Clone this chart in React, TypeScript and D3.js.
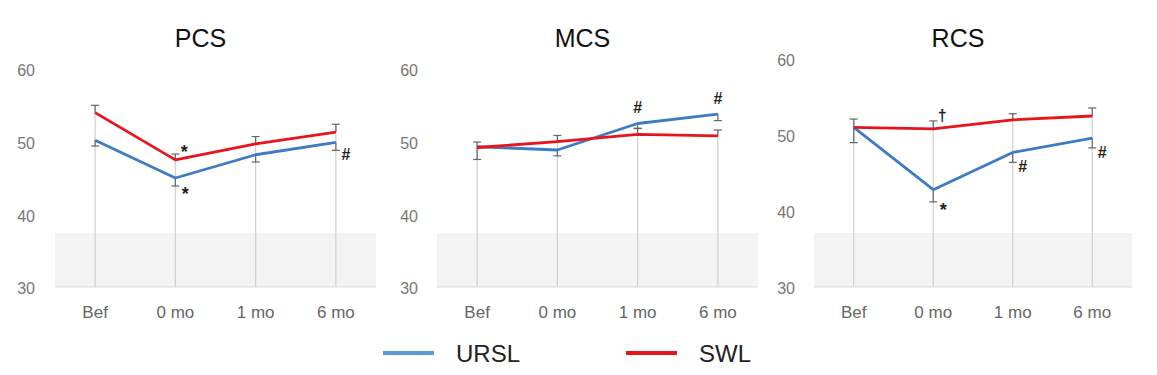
import React from "react";
import * as d3 from "d3";

const categories = ["Bef", "0 mo", "1 mo", "6 mo"];
const panelTitles = ["PCS", "MCS", "RCS"];
const yTicks = [30, 40, 50, 60];
const bandTop = [37.4, 37.4, 37.1];

const urslValues = [
  [50.2, 45.0, 48.2, 49.9],
  [49.3, 48.85, 52.5, 53.8],
  [51.0, 42.8, 47.7, 49.6],
];
const urslErr = [
  [0.8, 1.1, 1.0, 1.1],
  [1.75, 0.8, 0.7, 0.9],
  [2.0, 1.6, 1.3, 1.3],
];
const swlValues = [
  [54.0, 47.5, 49.7, 51.3],
  [49.2, 50.0, 51.0, 50.8],
  [51.0, 50.8, 52.0, 52.5],
];
const swlErr = [
  [1.0, 0.8, 1.0, 1.1],
  [0.75, 0.85, 0.85, 0.8],
  [1.1, 1.05, 0.8, 1.05],
];

// annotations: panel index, category index, symbol, anchor
const annotations = [
  { p: 0, c: 1, s: "*", a: "swlTop" },
  { p: 0, c: 1, s: "*", a: "urslBottom" },
  { p: 0, c: 3, s: "#", a: "urslBottom" },
  { p: 1, c: 2, s: "#", a: "urslAbove" },
  { p: 1, c: 3, s: "#", a: "urslAbove" },
  { p: 2, c: 1, s: "†", a: "swlTop" },
  { p: 2, c: 1, s: "*", a: "urslBottom" },
  { p: 2, c: 2, s: "#", a: "urslBottom" },
  { p: 2, c: 3, s: "#", a: "urslBottom" },
];

const legendItems = ["URSL", "SWL"];

const W = 1157;
const H = 375;
const FONT = "'Liberation Sans', Arial, sans-serif";
const RED = "#e8141c";
const BLUE = "#3d7bc2";
const LEGEND_BLUE = "#5b9bd5";

const panelLayout = [
  { x0: 55, x1: 376, yTop: 69, labelX: 35 },
  { x0: 437, x1: 758, yTop: 69, labelX: 418 },
  { x0: 814, x1: 1132, yTop: 59, labelX: 795 },
];
const BASE_Y = 287;

function Panel({ idx }: { idx: number }) {
  const L = panelLayout[idx];
  const x = d3.scalePoint<string>().domain(categories).range([L.x0, L.x1]).padding(0.5);
  const y = d3.scaleLinear().domain([30, 60]).range([BASE_Y, L.yTop]);
  const line = d3
    .line<number>()
    .x((_, i) => x(categories[i]) as number)
    .y((d) => y(d));
  const blue = urslValues[idx];
  const red = swlValues[idx];
  const be = urslErr[idx];
  const re = swlErr[idx];
  const cx = (i: number) => x(categories[i]) as number;
  const cap = 4;

  const anns = annotations.filter((a) => a.p === idx);
  const shift: Record<string, number> = { "*": 0.55, "#": 0.36, "†": 0.36 };
  const fs: Record<string, number> = { "*": 18, "#": 16, "†": 16 };

  return (
    <g>
      <text
        x={(L.x0 + L.x1) / 2 - 15}
        y={47}
        textAnchor="middle"
        fontFamily={FONT}
        fontSize={25}
        fill="#111"
      >
        {panelTitles[idx]}
      </text>
      <rect
        x={L.x0}
        y={y(bandTop[idx])}
        width={L.x1 - L.x0}
        height={BASE_Y - y(bandTop[idx])}
        fill="#f3f3f3"
      />
      <line x1={L.x0} x2={L.x1} y1={BASE_Y} y2={BASE_Y} stroke="#dcdcdc" strokeWidth={1.2} />
      {yTicks.map((t) => (
        <text
          key={t}
          x={L.labelX}
          y={y(t) + 3}
          textAnchor="end"
          dominantBaseline="middle"
          fontFamily={FONT}
          fontSize={16}
          fill="#777"
        >
          {t}
        </text>
      ))}
      {categories.map((c, i) => (
        <g key={c}>
          <line
            x1={cx(i)}
            x2={cx(i)}
            y1={BASE_Y}
            y2={y(red[i] + re[i])}
            stroke="#d0d0d0"
            strokeWidth={1.2}
          />
          <text
            x={cx(i)}
            y={318}
            textAnchor="middle"
            fontFamily={FONT}
            fontSize={17}
            fill="#666"
          >
            {c}
          </text>
        </g>
      ))}
      {categories.map((c, i) => (
        <g key={"e" + c} stroke="#666" strokeWidth={1.2}>
          <line x1={cx(i)} x2={cx(i)} y1={y(red[i])} y2={y(red[i] + re[i])} />
          <line x1={cx(i) - cap} x2={cx(i) + cap} y1={y(red[i] + re[i])} y2={y(red[i] + re[i])} />
          <line x1={cx(i)} x2={cx(i)} y1={y(blue[i])} y2={y(blue[i] - be[i])} />
          <line x1={cx(i) - cap} x2={cx(i) + cap} y1={y(blue[i] - be[i])} y2={y(blue[i] - be[i])} />
        </g>
      ))}
      <path d={line(blue) || ""} fill="none" stroke={BLUE} strokeWidth={2.8} strokeLinejoin="round" />
      <path d={line(red) || ""} fill="none" stroke={RED} strokeWidth={2.8} strokeLinejoin="round" />
      {anns.map((a, k) => {
        let px = cx(a.c);
        let py = 0;
        if (a.a === "swlTop") {
          px += 9;
          py = y(red[a.c] + re[a.c]) - 6;
        } else if (a.a === "urslBottom") {
          px += 10;
          py = y(blue[a.c] - be[a.c]) + 4;
        } else {
          py = y(blue[a.c]) - 16;
        }
        const f = fs[a.s];
        return (
          <text
            key={k}
            x={px}
            y={py + shift[a.s] * f}
            textAnchor="middle"
            fontFamily={FONT}
            fontSize={f}
            fontWeight="bold"
            fill="#222"
          >
            {a.s}
          </text>
        );
      })}
    </g>
  );
}

export default function App() {
  const legendX = d3.scalePoint<string>().domain(legendItems).range([383, 626]);
  const legendColors = [LEGEND_BLUE, RED];
  return (
    <svg
      width={W}
      height={H}
      style={{ position: "absolute", left: 0, top: 0, background: "#fff" }}
    >
      <rect width={W} height={H} fill="#fff" />
      {panelTitles.map((_, i) => (
        <Panel key={i} idx={i} />
      ))}
      {legendItems.map((name, i) => {
        const lx = legendX(name) as number;
        return (
          <g key={name}>
            <line x1={lx} x2={lx + 51} y1={353} y2={353} stroke={legendColors[i]} strokeWidth={4} />
            <text
              x={lx + 73}
              y={362}
              fontFamily={FONT}
              fontSize={24}
              fill="#222"
            >
              {name}
            </text>
          </g>
        );
      })}
    </svg>
  );
}
